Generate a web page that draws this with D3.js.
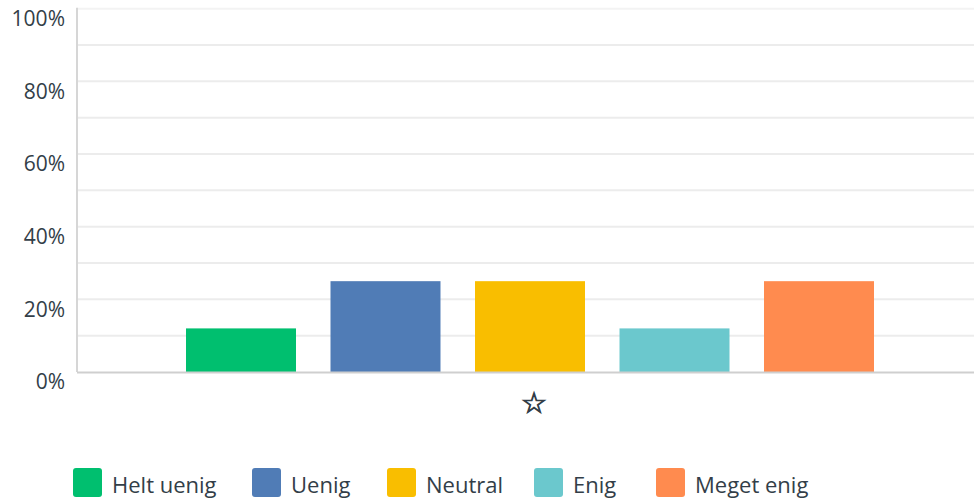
<!DOCTYPE html>
<html>
<head>
<meta charset="utf-8">
<script src="https://cdn.jsdelivr.net/npm/d3@7"></script>
<style>
  html, body { margin: 0; padding: 0; background: #fff; }
  svg { display: block; font-family: "Open Sans", "Noto Sans", sans-serif; }
</style>
</head>
<body>
<svg id="chart" width="974" height="501"></svg>
<script>
// ---- data ----
const categories = ["\u2606"];
const seriesNames = ["Helt uenig", "Uenig", "Neutral", "Enig", "Meget enig"];
const seriesValues = [0.12, 0.25, 0.25, 0.12, 0.25];
const seriesColors = ["#00bf6f", "#507cb6", "#f9be00", "#6bc8cd", "#ff8b4f"];
const yTickValues = [0, 0.2, 0.4, 0.6, 0.8, 1.0];
const yTickLabels = ["0%", "20%", "40%", "60%", "80%", "100%"];
const gridValues = [0.1, 0.2, 0.3, 0.4, 0.5, 0.6, 0.7, 0.8, 0.9, 1.0];

// ---- layout ----
const W = 974, H = 501;
const plot = { left: 77, right: 991, top: 8.7, bottom: 372 };
const textColor = "#333e48";
const fontFamily = "'Open Sans', 'Noto Sans', sans-serif";

const svg = d3.select("#chart");

const y = d3.scaleLinear().domain([0, 1]).range([plot.bottom, plot.top]);
const x0 = d3.scaleBand().domain(categories).range([plot.left, plot.right]).padding(0);
const x1 = d3.scaleBand().domain(seriesNames)
  .range([109, 797]).paddingInner(0.2388).paddingOuter(0);

// gridlines
svg.append("g").selectAll("line").data(gridValues).join("line")
  .attr("x1", plot.left).attr("x2", W)
  .attr("y1", d => y(d)).attr("y2", d => y(d))
  .attr("stroke", d => d === 1 ? "#f3f3f3" : "#ececec")
  .attr("stroke-width", 2);

// left axis line
svg.append("line")
  .attr("x1", plot.left).attr("x2", plot.left)
  .attr("y1", plot.top - 1).attr("y2", plot.bottom)
  .attr("stroke", "#d6d6d6").attr("stroke-width", 2);

// y tick labels
const yAxis = d3.axisLeft(y).tickValues(yTickValues)
  .tickFormat((d, i) => yTickLabels[i]).tickSize(0).tickPadding(0);
const gy = svg.append("g").attr("transform", `translate(${plot.left - 12},0)`).call(yAxis);
gy.select(".domain").remove();
gy.selectAll("text")
  .attr("fill", textColor)
  .attr("font-size", 21)
  .attr("dy", 16.8)
  .attr("y", 0)
  .attr("font-family", fontFamily);

// bars
const cat = svg.append("g").selectAll("g").data(categories).join("g")
  .attr("transform", d => `translate(${x0(d)},0)`);
cat.selectAll("rect").data(seriesNames.map((n, i) => ({ n, v: seriesValues[i], c: seriesColors[i] })))
  .join("rect")
  .attr("x", d => x1(d.n))
  .attr("width", x1.bandwidth())
  .attr("y", d => y(d.v))
  .attr("height", d => y(0) - y(d.v))
  .attr("fill", d => d.c);

// bottom axis line
svg.append("line")
  .attr("x1", plot.left).attr("x2", W)
  .attr("y1", plot.bottom + 0.5).attr("y2", plot.bottom + 0.5)
  .attr("stroke", "#cfcfcf").attr("stroke-width", 2);

// category label
svg.append("g").selectAll("text").data(categories).join("text")
  .attr("x", d => x0(d) + x0.bandwidth() / 2)
  .attr("y", 413)
  .attr("text-anchor", "middle")
  .attr("font-family", "'DejaVu Sans', sans-serif")
  .attr("font-size", 29)
  .attr("fill", textColor)
  .attr("stroke", textColor)
  .attr("stroke-width", 0.9)
  .text(d => d);

// legend
const legendX = [73, 252, 387, 534, 656];
const lg = svg.append("g").selectAll("g").data(seriesNames).join("g")
  .attr("transform", (d, i) => `translate(${legendX[i]},468)`);
lg.append("rect")
  .attr("width", 29).attr("height", 29).attr("rx", 3)
  .attr("fill", (d, i) => seriesColors[i]);
lg.append("text")
  .attr("x", 39).attr("y", 24.7)
  .attr("font-size", 22)
  .attr("font-family", fontFamily)
  .attr("fill", textColor)
  .text(d => d);
</script>
</body>
</html>
